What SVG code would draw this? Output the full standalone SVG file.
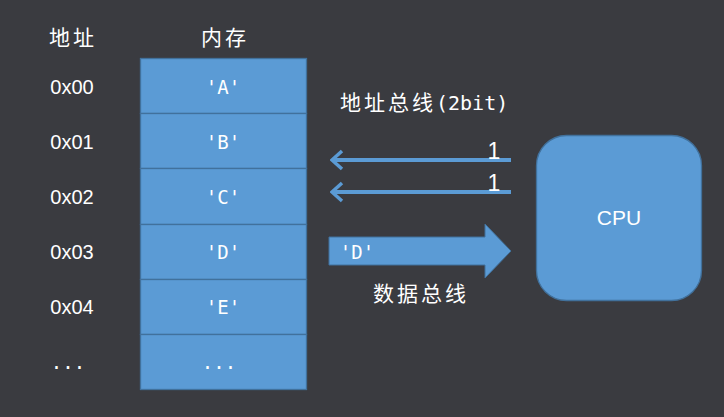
<svg xmlns="http://www.w3.org/2000/svg" width="724" height="417" viewBox="0 0 724 417">
<defs>
<style>
.t{font-family:"Liberation Sans","Noto Sans CJK SC",sans-serif;fill:#ffffff;font-size:20px;text-anchor:middle}
.m{font-family:"DejaVu Sans Mono","Noto Sans CJK SC",monospace;fill:#ffffff;font-size:19px;text-anchor:middle}
.c{font-family:"Noto Sans CJK SC",sans-serif;fill:#ffffff;font-size:21px;letter-spacing:3px}
.cell{fill:#5b9bd5;stroke:#41719c;stroke-width:1.3}
.bus{stroke:#5b9bd5;stroke-width:4;fill:none}
</style>
<marker id="ah" markerWidth="14" markerHeight="22" refX="12" refY="11" orient="auto" markerUnits="userSpaceOnUse" viewBox="0 0 14 22">
<path d="M2 2 L12 11 L2 20" fill="none" stroke="#5b9bd5" stroke-width="3.5"/>
</marker>
</defs>
<rect width="724" height="417" fill="#3a3b40"/>
<g id="headers">
<text class="c" x="73" y="45" text-anchor="middle">地址</text>
<text class="c" x="225" y="45" text-anchor="middle">内存</text>
</g>
<g id="addresses">
<text class="t" x="72" y="94">0x00</text>
<text class="t" x="72" y="149">0x01</text>
<text class="t" x="72" y="204">0x02</text>
<text class="t" x="72" y="259">0x03</text>
<text class="t" x="72" y="314">0x04</text>
<text class="m" x="68" y="369">...</text>
</g>
<g id="memory">
<g id="cell0"><rect class="cell" x="140.5" y="58.5" width="166" height="55"/><text class="m" x="223" y="94">'A'</text></g>
<g id="cell1"><rect class="cell" x="140.5" y="113.5" width="166" height="55"/><text class="m" x="223" y="149">'B'</text></g>
<g id="cell2"><rect class="cell" x="140.5" y="168.5" width="166" height="56"/><text class="m" x="223" y="204">'C'</text></g>
<g id="cell3"><rect class="cell" x="140.5" y="224.5" width="166" height="55"/><text class="m" x="223" y="259">'D'</text></g>
<g id="cell4"><rect class="cell" x="140.5" y="279.5" width="166" height="55"/><text class="m" x="223" y="314">'E'</text></g>
<g id="cell5"><rect class="cell" x="140.5" y="334.5" width="166" height="55"/><text class="m" x="219" y="369">...</text></g>
</g>
<g id="cpu">
<rect x="536.5" y="135.5" width="165" height="165" rx="30" fill="#5b9bd5" stroke="#41719c" stroke-width="1.3"/>
<text class="t" x="619" y="225" style="font-size:21px">CPU</text>
</g>
<g id="connectors">
<line class="bus" x1="511" y1="160" x2="332" y2="160" marker-end="url(#ah)"/>
<line class="bus" x1="511" y1="192" x2="332" y2="192" marker-end="url(#ah)"/>
<path d="M329 237 L485 237 L485 224 L511 251 L485 278 L485 265 L329 265 Z" fill="#5b9bd5" stroke="#41719c" stroke-width="1"/>
</g>
<g id="labels">
<text class="c" x="340" y="110">地址总线<tspan style="font-family:'DejaVu Sans Mono',monospace;font-size:20px;letter-spacing:0">(2bit)</tspan></text>
<text class="t" x="494" y="159" style="font-size:23px">1</text>
<text class="t" x="494" y="191" style="font-size:23px">1</text>
<text class="m" x="357" y="259">'D'</text>
<text class="c" x="421" y="301" text-anchor="middle">数据总线</text>
</g>
</svg>
